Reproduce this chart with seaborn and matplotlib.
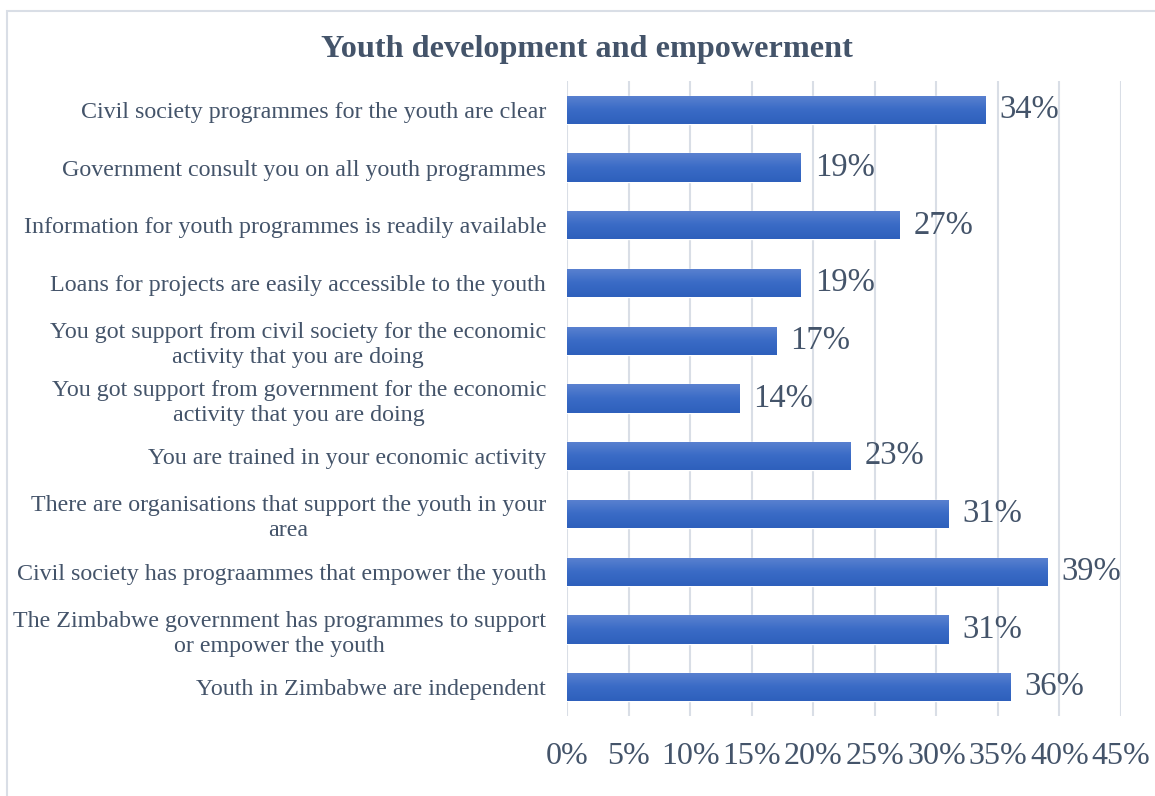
import matplotlib
matplotlib.use("Agg")
import matplotlib.pyplot as plt
import seaborn as sns
import numpy as np
import pandas as pd
from matplotlib.patches import Rectangle
from matplotlib.ticker import FuncFormatter, MultipleLocator
from matplotlib.colors import LinearSegmentedColormap

categories = [
    "Civil society programmes for the youth are clear",
    "Government consult you on all youth programmes",
    "Information for youth programmes is readily available",
    "Loans for projects are easily accessible to the youth",
    "You got support from civil society for the economic\nactivity that you are doing",
    "You got support from government for the economic\nactivity that you are doing",
    "You are trained in your economic activity",
    "There are organisations that support the youth in your\narea",
    "Civil society has prograammes that empower the youth",
    "The Zimbabwe government has programmes to support\nor empower the youth",
    "Youth in Zimbabwe are independent",
]
values = [34, 19, 27, 19, 17, 14, 23, 31, 39, 31, 36]
title = "Youth development and empowerment"

df = pd.DataFrame({"category": categories, "value": values})

sns.set_theme(style="white")
plt.rcParams["font.family"] = ["Liberation Serif", "DejaVu Serif"]

text_color = "#44546A"
grid_color = "#D9DEE6"

fig = plt.figure(figsize=(11.55, 7.96), dpi=100)
ax = fig.add_axes([567 / 1155, 1 - 716 / 796, (1121 - 567) / 1155, (716 - 81) / 796])

sns.barplot(data=df, y="category", x="value", orient="h", color="#4472C4",
            width=0.49, ax=ax, saturation=1)

ax.set_xlim(0, 45)
ax.set_ylim(10.5, -0.5)

# gradient fill on bars
grad = np.linspace(0, 1, 64).reshape(-1, 1)
cmap = LinearSegmentedColormap.from_list("g", ["#5B82D0", "#3A6BC6", "#2E60BC"])
for p in ax.patches:
    x0, y0 = p.get_x(), p.get_y()
    w, h = p.get_width(), p.get_height()
    im = ax.imshow(grad, extent=(x0, x0 + w, y0 + h, y0), cmap=cmap,
                   aspect="auto", origin="upper", zorder=p.get_zorder() + 0.1)
    im.set_clip_path(p)
ax.set_xlim(0, 45)
ax.set_ylim(10.5, -0.5)

for i, v in enumerate(values):
    ax.text(v + 1.15, i, f"{v}%", va="center", ha="left", fontsize=23.5,
            color=text_color)

ax.xaxis.set_major_locator(MultipleLocator(5))
ax.xaxis.set_major_formatter(FuncFormatter(lambda x, _: f"{x:.0f}%"))
ax.grid(axis="x", color=grid_color, linewidth=1.5)
ax.set_axisbelow(True)
for s in ax.spines.values():
    s.set_visible(False)
ax.tick_params(axis="x", length=0, pad=18.5, labelsize=23, labelcolor=text_color)
ax.tick_params(axis="y", length=0, pad=15, labelsize=17.3, labelcolor=text_color)
for lab in ax.get_yticklabels():
    lab.set_multialignment("center")
    lab.set_linespacing(1.25)
ax.set_xlabel("")
ax.set_ylabel("")

fig.text(587 / 1155, 1 - 49 / 796, title, ha="center", va="center",
         fontsize=23.2, fontweight="bold", color=text_color)

fig.patches.append(Rectangle((7 / 1155, -0.05), 1.2, 1 - 11 / 796 + 0.05,
                             transform=fig.transFigure, fill=False,
                             edgecolor="#D9DEE6", linewidth=1.5, zorder=0))

fig.savefig("out.png", dpi=100, facecolor="white")
